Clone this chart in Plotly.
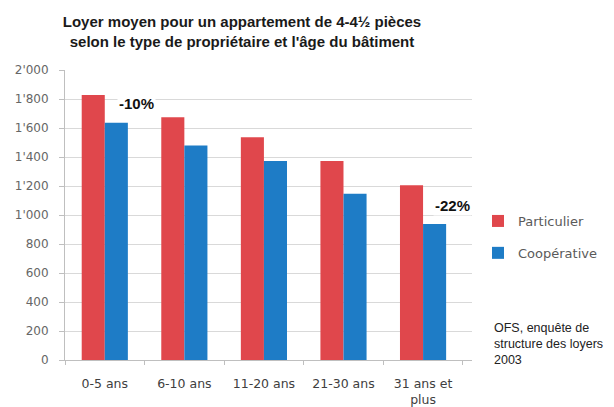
import plotly.graph_objects as go

categories = ["0-5 ans", "6-10 ans", "11-20 ans", "21-30 ans", "31 ans et<br>plus"]
particulier = [1828, 1674, 1536, 1372, 1205]
cooperative = [1637, 1480, 1372, 1147, 938]
y_tickvals = [0, 200, 400, 600, 800, 1000, 1200, 1400, 1600, 1800, 2000]
y_ticktext = ["0", "200", "400", "600", "800", "1'000", "1'200", "1'400", "1'600", "1'800", "2'000"]
source_lines = ["OFS, enquête de", "structure des loyers", "2003"]

red = "#E0474C"
blue = "#1E7CC6"

# page body has an 8px margin; figure is sized to fit the visible area
W, H = 598, 399
L, R, T, B = 57, 134, 62, 47
pw, ph = W - L - R, H - T - B

fig = go.Figure()
fig.add_trace(go.Bar(x=categories, y=particulier, name="Particulier",
                     marker=dict(color=red, line=dict(width=0)), legendgroup="a"))
fig.add_trace(go.Bar(x=categories, y=cooperative, name="Coopérative",
                     marker=dict(color=blue, line=dict(width=0)), legendgroup="b"))

fig.update_layout(
    width=W, height=H,
    margin=dict(l=L, r=R, t=T, b=B, autoexpand=False),
    paper_bgcolor="white", plot_bgcolor="white",
    barmode="group", bargap=0.42, bargroupgap=0,
    title=dict(text="<b>Loyer moyen pour un appartement de 4-4½ pièces<br>selon le type de propriétaire et l'âge du bâtiment</b>",
               x=234 / W, xanchor="center", yref="container", y=1 - 19 / H, yanchor="middle",
               font=dict(family="Liberation Sans", size=15, color="#1a1a1a")),
    font=dict(family="DejaVu Sans", size=12, color="#595959"),
    legend=dict(x=(470 - L) / pw, xanchor="left",
                y=(H - B - 198) / ph, yanchor="top",
                traceorder="grouped", tracegroupgap=12,
                font=dict(family="DejaVu Sans", size=13, color="#5a5a5a"),
                itemwidth=30),
    showlegend=True,
)
fig.update_xaxes(showgrid=False, showline=True, linecolor="#BFBFBF", linewidth=1,
                 ticks="outside", tickson="boundaries", ticklen=4, tickcolor="#BFBFBF",
                 ticklabelstandoff=12, automargin=False,
                 tickfont=dict(family="DejaVu Sans", size=12.5, color="#404040"))
fig.update_yaxes(range=[0, 2000], tickvals=y_tickvals, ticktext=y_ticktext,
                 showgrid=True, gridcolor="#D9D9D9", gridwidth=1,
                 showline=True, linecolor="#BFBFBF", linewidth=1,
                 ticks="outside", ticklen=5, tickcolor="#BFBFBF",
                 ticklabelstandoff=8, automargin=False,
                 tickfont=dict(family="DejaVu Sans", size=12, color="#666666"),
                 zeroline=False)

fig.add_annotation(x=0.4, y=1772, xref="x", yref="y", text="<b>-10%</b>", showarrow=False,
                   font=dict(family="Liberation Sans", size=15, color="#111111"), bgcolor="white")
fig.add_annotation(x=4.37, y=1069, xref="x", yref="y", text="<b>-22%</b>", showarrow=False,
                   font=dict(family="Liberation Sans", size=15, color="#111111"), bgcolor="white")

for i, line in enumerate(source_lines):
    fig.add_annotation(x=(484 - L) / pw, y=(H - B - (320 + 16 * i)) / ph, xref="paper", yref="paper",
                       showarrow=False, text=line, align="left", xanchor="left", yanchor="middle",
                       font=dict(family="Liberation Sans", size=12.5, color="#222222"))

fig.write_html("out.html")
